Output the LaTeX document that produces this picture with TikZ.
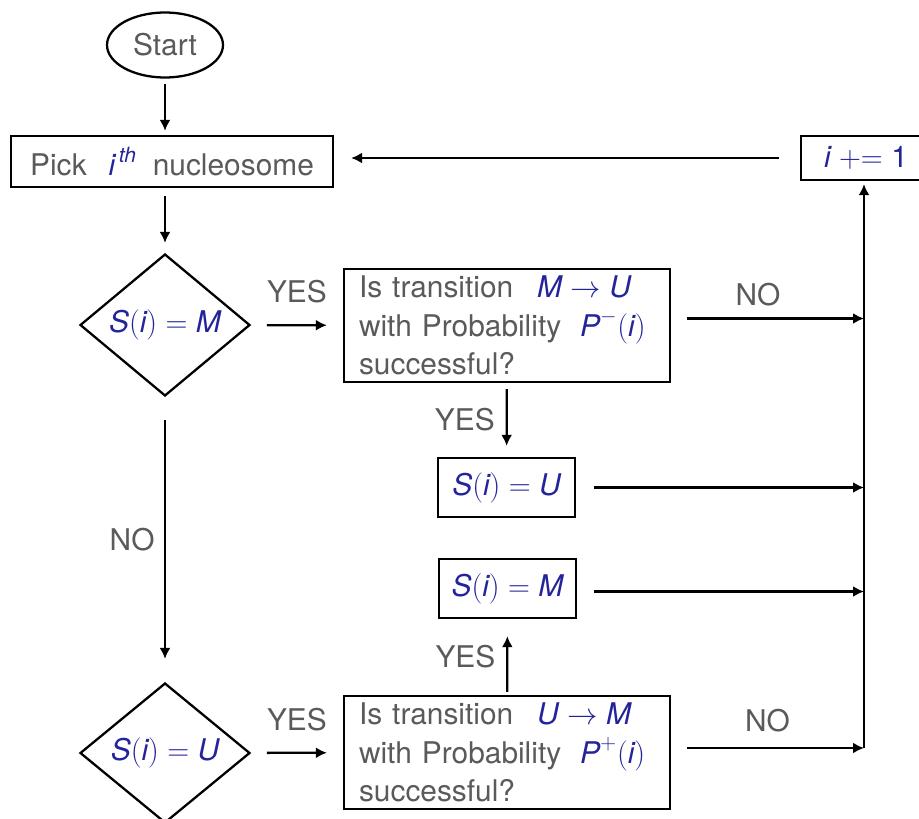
\documentclass[tikz,border=0pt]{standalone}
\usepackage{amsmath}
\usepackage{fontspec}
\setmainfont{TeX Gyre Heros}
\usepackage{tikz}
\usetikzlibrary{arrows.meta, shapes.geometric}

\definecolor{txtgrey}{RGB}{90,90,90}
\definecolor{mblue}{RGB}{35,35,155}
\newcommand{\mv}[1]{\textit{#1}}
\newcommand{\mth}[1]{\textcolor{mblue}{$#1$}}

\begin{document}
\begin{tikzpicture}[x=0.02cm, y=-0.02cm,
  >={Latex[length=2.2mm, width=2.2mm]}, line width=1.3pt,
  every node/.style={font=\fontsize{17}{22}\selectfont, text=txtgrey},
  box/.style={draw, rectangle, inner sep=2pt},
  test/.style={draw, diamond, minimum width=3.4cm, minimum height=2.8cm, inner sep=0pt},
  term/.style={draw, ellipse, minimum width=2.32cm, minimum height=1.3cm, inner sep=0pt}]
  \useasboundingbox (0,0) rectangle (919,818);

  % nodes
  \node[term] (start) at (165,45) {Start};
  \node[box, minimum width=6.44cm, minimum height=1.02cm] (pick) at (172,161.5)
    {Pick\hspace{0.44cm}\mth{\mv{i}^{\,\mv{th}}}\hspace{0.32cm}nucleosome};
  \node[test] (d1) at (165,325) {\mth{\mv{S}(\mv{i}) = \mv{M}}};
  \node[box, minimum height=2.26cm, text width=5.92cm, inner xsep=0.3cm, align=left] (mu) at (507,325.5)
    {Is transition\hspace{0.48cm}\mth{\mv{M} \to \mv{U}}\\
     with Probability\hspace{0.38cm}\mth{\mv{P}^{-}(\mv{i})}\\
     successful?};
  \node[box, minimum width=2.74cm, minimum height=1.18cm] (su) at (506.5,487.5) {\mth{\mv{S}(\mv{i}) = \mv{U}}};
  \node[box, minimum width=2.74cm, minimum height=1.18cm] (sm) at (507.5,588.5) {\mth{\mv{S}(\mv{i}) = \mv{M}}};
  \node[test] (d2) at (165,753) {\mth{\mv{S}(\mv{i}) = \mv{U}}};
  \node[box, minimum height=2.26cm, text width=5.92cm, inner xsep=0.3cm, align=left] (um) at (507,752.5)
    {Is transition\hspace{0.48cm}\mth{\mv{U} \to \mv{M}}\\
     with Probability\hspace{0.38cm}\mth{\mv{P}^{+}(\mv{i})}\\
     successful?};
  \node[box, minimum width=2.6cm, minimum height=0.88cm] (inc) at (866,158) {\mth{\mv{i} \mathrel{+{=}} \text{1}}};

  % collecting line
  \coordinate (bustop) at (864,158);
  \coordinate (busbot) at (864,748);

  % main path
  \draw[->, shorten <=0.1cm, shorten >=0.08cm] (start) -- (start |- pick.north);
  \draw[->, shorten <=0.16cm, shorten >=0.2cm] (pick.south -| d1) -- (d1);
  \draw[->, shorten <=0.32cm, shorten >=0.32cm] (d1) -- (mu)
    node[midway, above=0.3cm] {YES};
  \draw[->, shorten <=0.46cm, shorten >=0.46cm] (d1) -- (d2)
    node[midway, left=0.07cm] {NO};
  \draw[->, shorten <=0.32cm, shorten >=0.32cm] (d2) -- (um)
    node[midway, above=0.3cm] {YES};

  % transitions
  \draw[->, shorten <=0.12cm, shorten >=0.22cm] (mu) -- (su)
    node[midway, left=0.1cm] {YES};
  \draw[->, shorten <=0.06cm, shorten >=0.34cm] (um) -- (sm)
    node[midway, left=0.1cm] {YES};

  % into the collecting line
  \draw[->, shorten <=0.32cm] ([yshift=0.14cm]mu.east) -- ([yshift=0.14cm]mu.east -| bustop)
    node[pos=0.45, above=0.1cm] {NO};
  \draw[->, shorten <=0.36cm] (su.east) -- (su.east -| bustop);
  \draw[->, shorten <=0.34cm] ([yshift=-0.06cm]sm.east) -- ([yshift=-0.06cm]sm.east -| bustop);
  \draw[->, shorten <=0.32cm] ([yshift=0.09cm]um.east) -- ([yshift=0.09cm]um.east -| bustop)
    node[pos=0.5, above=0.18cm] {NO};
  \draw[->, shorten >=0.06cm] (busbot) -- (inc.south -| busbot);

  % back to the start
  \draw[->, shorten <=0.42cm, shorten >=0.34cm] (inc.west) -- (inc.west -| pick.east);
\end{tikzpicture}
\end{document}
